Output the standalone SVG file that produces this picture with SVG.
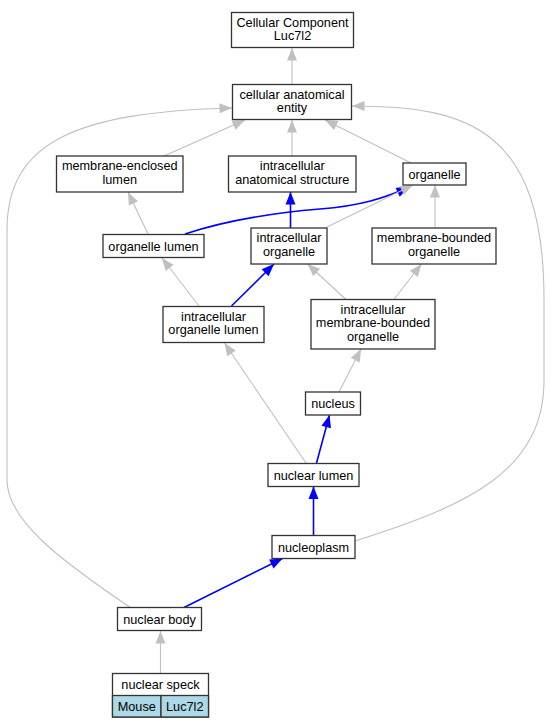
<svg xmlns="http://www.w3.org/2000/svg" width="550" height="728" viewBox="0 0 550 728">
<style>
.n rect{fill:#fff;stroke:#333;stroke-width:1.3}
.n text,.t{font-family:"Liberation Sans",Arial,sans-serif;font-size:12.7px;fill:#000;text-anchor:middle}
.g{fill:none;stroke:#c0c0c0;stroke-width:1.1}
.b{fill:none;stroke:#0000ff;stroke-width:1.6}
</style>
<defs>
<marker id="ag" markerUnits="userSpaceOnUse" viewBox="0 0 13 10" markerWidth="13" markerHeight="10" refX="12.5" refY="5" orient="auto" overflow="visible"><path d="M0,0 L12.5,5 L0,10 z" fill="#c0c0c0"/></marker>
<marker id="ab" markerUnits="userSpaceOnUse" viewBox="0 0 13 10" markerWidth="13" markerHeight="10" refX="12.5" refY="5" orient="auto" overflow="visible"><path d="M0,0 L12.5,5 L0,10 z" fill="#0000ff"/></marker>
</defs>
<rect width="550" height="728" fill="#fff"/>
<g id="edges">
<path class="g" marker-end="url(#ag)" d="M292,84 L292,48"/>
<path class="g" marker-end="url(#ag)" d="M164,156 L245,120"/>
<path class="g" marker-end="url(#ag)" d="M292,156 L292,120"/>
<path class="g" marker-end="url(#ag)" d="M411,163 L325,120"/>
<path class="g" marker-end="url(#ag)" d="M148,234 L128,192"/>
<path class="b" marker-end="url(#ab)" d="M185,234 C215,224 260,214 320,209 C360,206 385,198 409,187"/>
<path class="b" marker-end="url(#ab)" d="M290.5,228 L290.5,192"/>
<path class="g" marker-end="url(#ag)" d="M327,227 L413,185"/>
<path class="g" marker-end="url(#ag)" d="M435,228 L435,185"/>
<path class="g" marker-end="url(#ag)" d="M199,306 L162,258"/>
<path class="b" marker-end="url(#ab)" d="M231.5,306 L274,264"/>
<path class="g" marker-end="url(#ag)" d="M346.5,300 L307.5,264"/>
<path class="g" marker-end="url(#ag)" d="M393.5,300 L421.5,264"/>
<path class="g" marker-end="url(#ag)" d="M339,392 L361,349"/>
<path class="g" marker-end="url(#ag)" d="M306,463 L224.5,343"/>
<path class="b" marker-end="url(#ab)" d="M316.5,463 L329.5,415"/>
<path class="b" marker-end="url(#ab)" d="M313.5,535.5 L313.5,486.5"/>
<path class="g" marker-end="url(#ag)" d="M355,541 C470,505 544,470 544,380 L544,300 C544,130 470,106 352,106"/>
<path class="b" marker-end="url(#ab)" d="M184,607.5 L282.5,558.5"/>
<path class="g" marker-end="url(#ag)" d="M131,608 C60,560 7,520 7,480 L7,230 C7,140 80,112 232,108"/>
<path class="g" marker-end="url(#ag)" d="M160.5,673 L160.5,631"/>
</g>
<g id="cc" class="n"><rect x="231.5" y="12.5" width="122" height="35"/><text x="292.5" y="26.5">Cellular Component</text><text x="292.5" y="40">Luc7l2</text></g>
<g id="cae" class="n"><rect x="232.5" y="84.5" width="119" height="35"/><text x="292" y="98.5">cellular anatomical</text><text x="292" y="112">entity</text></g>
<g id="mel" class="n"><rect x="56.5" y="156" width="126.5" height="36"/><text x="119.75" y="170.3">membrane-enclosed</text><text x="119.75" y="183.8">lumen</text></g>
<g id="ias" class="n"><rect x="228.5" y="156" width="127.5" height="36"/><text x="292.25" y="170.3">intracellular</text><text x="292.25" y="183.8">anatomical structure</text></g>
<g id="organelle" class="n"><rect x="403" y="163" width="63" height="22"/><text x="434.5" y="178.5">organelle</text></g>
<g id="ol" class="n"><rect x="103" y="234.5" width="101" height="23"/><text x="153.5" y="250.5">organelle lumen</text></g>
<g id="io" class="n"><rect x="251" y="228" width="76" height="36"/><text x="289" y="242.3">intracellular</text><text x="289" y="255.8">organelle</text></g>
<g id="mbo" class="n"><rect x="372" y="228" width="124" height="36"/><text x="434" y="242.3">membrane-bounded</text><text x="434" y="255.8">organelle</text></g>
<g id="iol" class="n"><rect x="163" y="306.5" width="101" height="36"/><text x="213.5" y="320.8">intracellular</text><text x="213.5" y="334.3">organelle lumen</text></g>
<g id="imbo" class="n"><rect x="311" y="299.5" width="124" height="49.5"/><text x="373" y="313.8">intracellular</text><text x="373" y="327.3">membrane-bounded</text><text x="373" y="340.8">organelle</text></g>
<g id="nucleus" class="n"><rect x="305.5" y="392" width="55" height="23"/><text x="333" y="408">nucleus</text></g>
<g id="nlumen" class="n"><rect x="268" y="463.5" width="91" height="23"/><text x="313.5" y="479.5">nuclear lumen</text></g>
<g id="nucleoplasm" class="n"><rect x="272" y="535.5" width="83" height="23"/><text x="313.5" y="551.5">nucleoplasm</text></g>
<g id="nbody" class="n"><rect x="117.5" y="607.5" width="84" height="23"/><text x="159.5" y="623.5">nuclear body</text></g>
<g id="nspeck">
<rect x="112.5" y="673.5" width="96" height="43.5" fill="#fff" stroke="#333" stroke-width="1.3"/>
<rect x="112.5" y="695.5" width="48.5" height="21.5" fill="#add8e6" stroke="#333" stroke-width="1.3"/>
<rect x="161" y="695.5" width="47.5" height="21.5" fill="#add8e6" stroke="#333" stroke-width="1.3"/>
<text class="t" x="160.5" y="689">nuclear speck</text>
<text class="t" x="136.75" y="710.5">Mouse</text>
<text class="t" x="184.75" y="710.5">Luc7l2</text>
</g>
</svg>
